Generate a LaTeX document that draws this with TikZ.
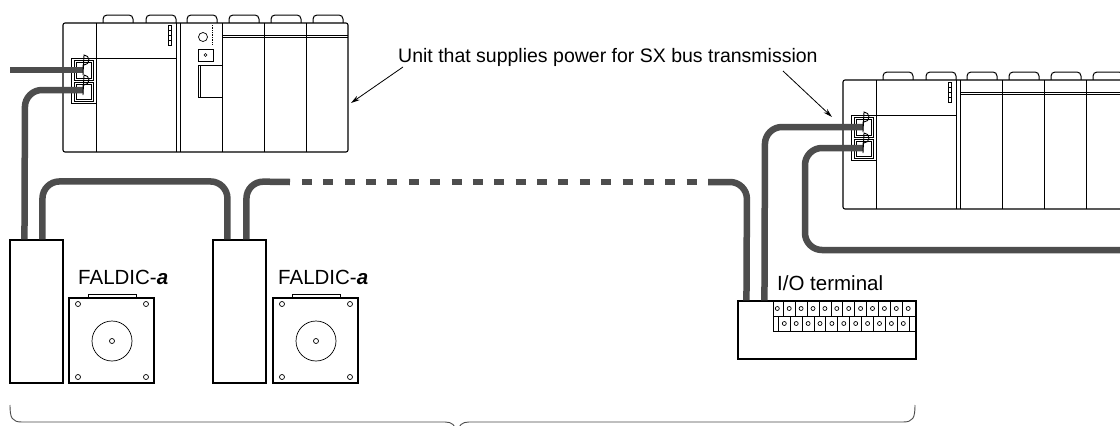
\documentclass[tikz,border=0pt]{standalone}
\usepackage{fontspec}
\setmainfont{Liberation Sans}
\usetikzlibrary{arrows.meta,calc}
\definecolor{cablegray}{RGB}{77,77,77}
\begin{document}
\begin{tikzpicture}[x=1pt,y=-1pt,
  outline/.style={draw=black,line width=1.1pt},
  fine/.style={draw=black,line width=0.7pt},
  cable/.style={draw=cablegray,line width=6.5pt,rounded corners=17pt},
  lbl/.style={anchor=base west,inner sep=0pt,font=\fontsize{19.5}{22}\selectfont},
  biglbl/.style={anchor=base west,inner sep=0pt,font=\fontsize{20.5}{23}\selectfont},
  pointer/.style={draw=black,line width=0.8pt,-{Stealth[length=9pt,width=5pt]}},
  drivebox/.style={draw=black,line width=1.1pt,minimum width=53pt,minimum height=143pt,inner sep=0pt},
  plcframe/.pic={
    \draw[draw=black,line width=1pt,rounded corners=4pt] (40,0)--(40,-8)--(70,-8)--(70,0);
    \foreach \a in {83,124,166,208,250}
      \draw[draw=black,line width=1pt,rounded corners=4pt] (\a,0)--(\a,-8)--(\a+30,-8)--(\a+30,0);
    \draw[outline,fill=white,rounded corners=2pt] (0,0) rectangle (285,129);
    \foreach \xx in {33,113,117,159,201,243}
      \draw[fine] (\xx,0)--(\xx,129);
    \draw[fine] (33,35)--(113,35);
    \draw[fine] (105.5,2) rectangle (108.5,22);
    \foreach \yy in {7,12,17} \draw[fine] (105.5,\yy)--(108.5,\yy);
    \draw[fine] (8,35) rectangle (33,80);
    \draw[fine] (11,37) rectangle (30,57);
    \draw[fine] (13,39) rectangle (28,55);
    \draw[fine] (11,59) rectangle (30,78);
    \draw[fine] (13,61) rectangle (28,76);
  },
  plugD/.pic={
    \draw[draw=black,line width=0.9pt] (0,-5) -- (1,-5) arc[start angle=90,end angle=-90,radius=5] -- (0,5) -- cycle;
  },
  motorpic/.pic={
    \draw[fine] (19,0) rectangle (67,-4);
    \draw[outline] (0,0) rectangle (85,85);
    \draw[fine] (43,43) circle[radius=20];
    \draw[fine] (43,43) circle[radius=2.5];
    \foreach \px/\py in {9/6,77/6,9/79,77/79}
      \draw[fine] (\px,\py) circle[radius=2.5];
  }
]
\clip (0,0) rectangle (1120,426);
\fill[white] (0,0) rectangle (1120,426);

% ---------- left PLC ----------
\pic at (63,23) {plcframe};
\begin{scope}[shift={(63,23)}]
  \draw[fine] (159,12)--(285,12);
  \draw[fine] (159,14.5)--(285,14.5);
  \draw[fine] (140,14) circle[radius=4.5];
  \draw[fine,densely dotted] (149,2)--(149,22);
  \draw[fine] (135,26) rectangle (150,38);
  \draw[fine] (142.5,32) circle[radius=1.5];
  \draw[fine] (135,42) rectangle (159,74);
  \draw[fine] (137,42)--(137,74);
\end{scope}
\coordinate (lpA) at (83,70);
\coordinate (lpB) at (83,90);

% ---------- right PLC ----------
\pic at (843,80) {plcframe};
\begin{scope}[shift={(843,80)}]
  \draw[fine] (117,12)--(285,12);
  \draw[fine] (117,14.5)--(285,14.5);
\end{scope}
\coordinate (rpA) at (863,127);
\coordinate (rpB) at (863,148);

% ---------- drives and motors ----------
\node[drivebox] (d1) at (36.5,311.5) {};
\node[drivebox] (d2) at (239.5,311.5) {};
\pic at (69,298) {motorpic};
\pic at (273,298) {motorpic};
\node[biglbl] (f1) at (78,284) {FALDIC-\textbf{\textit{a}}};
\node[biglbl] (f2) at (278,284) {FALDIC-\textbf{\textit{a}}};

% ---------- I/O terminal ----------
\node[draw=black,line width=1.1pt,minimum width=178pt,minimum height=58pt,inner sep=0pt] (io) at (827,330) {};
\draw[fine] (773,301) -- (773,331) -- (916,331);
\draw[fine] (773,316) -- (916,316);
\foreach \k in {0,...,10} \draw[fine] ({783.3+11.9*\k},301) -- ({783.3+11.9*\k},316);
\foreach \k in {0,...,11} \draw[fine] ({777.3+11.9*\k},308.5) circle[radius=2];
\foreach \k in {0,...,11} \draw[fine] ({778.3+11.88*\k},316) -- ({778.3+11.88*\k},331);
\foreach \k in {0,...,10} \draw[fine] ({784.3+11.9*\k},323.5) circle[radius=2];
\node[biglbl] (iol) at (777,290) {I/O terminal};

% ---------- cables ----------
\coordinate (freeA) at (10,70);
\draw[cable] (lpA) -- (freeA);
\draw[cable] (lpB) -- (25,90) -- ([xshift=15pt]d1.north west);
\draw[cable] ([xshift=33pt]d1.north west) -- ++(0,-58) -- ($(d2.north west)+(15,-58)$) -- ([xshift=15pt]d2.north west);
\draw[cable] ([xshift=34pt]d2.north west) -- ++(0,-58) -- (290,182);
\foreach \i in {0,...,18}
  \draw[draw=cablegray,line width=6.5pt] ({302+21.37*\i},182) -- ({312+21.37*\i},182);
\draw[cable] (708,182) -- (747,182) -- ([xshift=9pt]io.north west);
\draw[cable] (rpA) -- (765,127) -- ([xshift=27pt]io.north west);
\coordinate (freeF) at (1126,250);
\draw[cable] (rpB) -- (805,148) -- (805,250) -- (freeF);

% plugs drawn over cable ends
\pic at (lpA) {plugD};
\pic at (lpB) {plugD};
\pic at (rpA) {plugD};
\pic at (rpB) {plugD};

% ---------- label and pointers ----------
\node[lbl] (unit) at (398,62) {Unit that supplies power for SX bus transmission};
\draw[pointer] (403,67) -- (351,103);
\draw[pointer] (783,71) -- (832,117);

% ---------- brace ----------
\draw[draw=black!70,line width=0.9pt]
  (10,405) .. controls (10,418) and (12,422) .. (22,422) -- (445,422)
  .. controls (452,422) and (455,425) .. (457,432);
\draw[draw=black!70,line width=0.9pt]
  (915,405) .. controls (915,418) and (913,422) .. (903,422) -- (469,422)
  .. controls (462,422) and (459,425) .. (457,432);
\end{tikzpicture}
\end{document}
